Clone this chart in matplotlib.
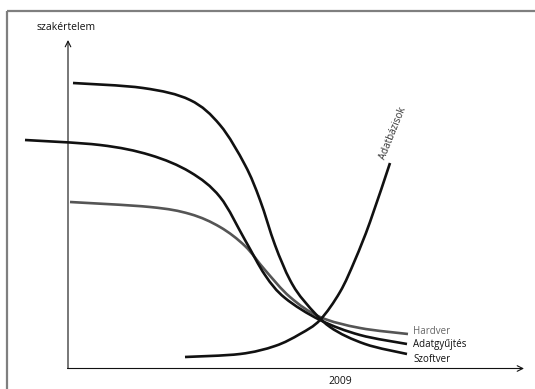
import matplotlib.pyplot as plt
import numpy as np
from matplotlib.patches import Rectangle,PathPatch
from matplotlib.path import Path

szoftver_x=[73,143,190,220,245,260,275,290,305,330,365,407]
szoftver_y=[83,88,100,125,165,200,245,280,302,327,344,354]
adat_x=[25,100,150,190,220,245,265,285,320,360,407]
adat_y=[140,145,155,172,197,240,275,298,320,335,344]
hardver_x=[70,150,190,220,245,265,290,320,360,408]
hardver_y=[202,207,214,227,246,270,297,317,328,334]
bazis_x=[185,240,275,300,320,340,355,370,390]
bazis_y=[357,354,346,334,320,292,260,222,163]
labels=["Hardver","Adatgyűjtés","Szoftver"]
label_y=[331,345,359]
label_colors=["#666666","#111111","#111111"]

def smooth_path(xs,ys):
    p=np.column_stack([xs,ys]).astype(float)
    verts=[p[0]]
    codes=[Path.MOVETO]
    for i in range(len(p)-1):
        a=p[i-1] if i>0 else p[i]
        d=p[i+2] if i+2<len(p) else p[i+1]
        c1=p[i]+(p[i+1]-a)/6
        c2=p[i+1]-(d-p[i])/6
        verts+=[c1,c2,p[i+1]]
        codes+=[Path.CURVE4]*3
    return Path(verts,codes)

plt.rcParams['font.family']=['Open Sans','DejaVu Sans']
fig=plt.figure(figsize=(5.35,3.89),dpi=100)
ax=fig.add_axes([0,0,1,1])
ax.set_xlim(0,535)
ax.set_ylim(389,0)
ax.axis("off")
ax.add_patch(Rectangle((6.5,11),580,420,fill=False,edgecolor="#7f7f7f",linewidth=1.6))
ax.annotate("",xy=(68,40),xytext=(68,368.5),arrowprops=dict(arrowstyle="->",color="#111111",lw=0.8,shrinkA=0,shrinkB=0))
ax.annotate("",xy=(524,368.5),xytext=(67.5,368.5),arrowprops=dict(arrowstyle="->",color="#111111",lw=0.8,shrinkA=0,shrinkB=0))
for xs,ys,c in [(hardver_x,hardver_y,"#555555"),(adat_x,adat_y,"#111111"),(szoftver_x,szoftver_y,"#111111"),(bazis_x,bazis_y,"#111111")]:
    ax.add_patch(PathPatch(smooth_path(xs,ys),fill=False,edgecolor=c,lw=1.9,capstyle="butt"))
for t,y,c in zip(labels,label_y,label_colors):
    ax.text(413,y,t,fontsize=7,color=c,va="center",ha="left")
ax.text(388,161,"Adatbázisok",fontsize=7,color="#333333",rotation=68,rotation_mode="anchor",ha="left",va="bottom")
ax.text(66,27,"szakértelem",fontsize=7.5,color="#111111",ha="center",va="center")
ax.text(340,381,"2009",fontsize=7.5,color="#111111",ha="center",va="center")
fig.savefig("out.png",dpi=100)
